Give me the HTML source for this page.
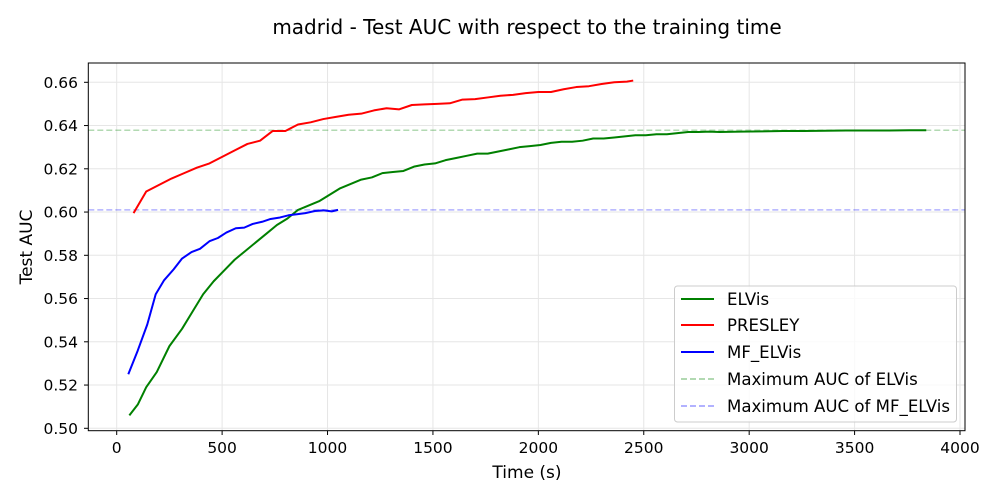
<!DOCTYPE html>
<html><head><meta charset="utf-8">
<style>
body{margin:0;background:#fff;}
svg{display:block;font-family:"DejaVu Sans","Liberation Sans",sans-serif;}
</style></head>
<body>
<svg id="chart" width="1000" height="500">
<text x="527" y="34" text-anchor="middle" font-size="20">madrid - Test AUC with respect to the training time</text>
<g id="grid"></g>
<g id="plot"></g>
<rect x="88.3" y="63" width="876.7" height="367.7" fill="none" stroke="#000" stroke-width="1"/>
<g id="axes"></g>
<text x="527" y="478" text-anchor="middle" font-size="17">Time (s)</text>
<text transform="translate(32,247) rotate(-90)" text-anchor="middle" font-size="17">Test AUC</text>
<g>
<rect x="674.5" y="286" width="282" height="136" rx="3" fill="#fff" fill-opacity="0.8" stroke="#ccc"/>
<g><line x1="681" y1="299" x2="714" y2="299" stroke="green" stroke-width="2"/><text x="727" y="305" font-size="16.6">ELVis</text></g>
<g><line x1="681" y1="325" x2="714" y2="325" stroke="red" stroke-width="2"/><text x="727" y="331" font-size="16.6">PRESLEY</text></g>
<g><line x1="681" y1="352" x2="714" y2="352" stroke="blue" stroke-width="2"/><text x="727" y="358" font-size="16.6">MF_ELVis</text></g>
<g><line x1="681" y1="379" x2="714" y2="379" stroke="green" stroke-opacity="0.3" stroke-width="2" stroke-dasharray="6,3"/><text x="727" y="385" font-size="16.6">Maximum AUC of ELVis</text></g>
<g><line x1="681" y1="406" x2="714" y2="406" stroke="blue" stroke-opacity="0.3" stroke-width="2" stroke-dasharray="6,3"/><text x="727" y="412" font-size="16.6">Maximum AUC of MF_ELVis</text></g>
</g>
</svg>
<script>
const xTicks=[0,500,1000,1500,2000,2500,3000,3500,4000];
const yTicks=[0.50,0.52,0.54,0.56,0.58,0.60,0.62,0.64,0.66];
const elvisT=[60,100,140,190,250,310,360,410,460,510,560,610,660,710,760,810,860,910,960,1010,1060,1110,1160,1210,1260,1310,1360,1410,1460,1510,1560,1610,1660,1710,1760,1810,1860,1910,1960,2010,2060,2110,2160,2210,2260,2310,2360,2410,2460,2510,2560,2610,2660,2710,2760,2810,2860,2960,3060,3160,3260,3360,3460,3560,3660,3760,3840];
const elvisAUC=[0.506,0.511,0.519,0.526,0.538,0.546,0.554,0.562,0.568,0.573,0.578,0.582,0.586,0.590,0.594,0.597,0.601,0.603,0.605,0.608,0.611,0.613,0.615,0.616,0.618,0.6185,0.619,0.621,0.622,0.6225,0.624,0.625,0.626,0.627,0.627,0.628,0.629,0.630,0.6305,0.631,0.632,0.6325,0.6325,0.633,0.634,0.634,0.6345,0.635,0.6355,0.6355,0.636,0.636,0.6365,0.637,0.637,0.6372,0.637,0.6372,0.6373,0.6375,0.6375,0.6376,0.6377,0.6377,0.6377,0.6378,0.6378];
const presleyT=[80,140,200,260,320,380,440,500,560,620,680,740,800,860,920,980,1040,1100,1160,1220,1280,1340,1400,1460,1520,1580,1640,1700,1760,1820,1880,1940,2000,2060,2120,2180,2240,2300,2360,2420,2450];
const presleyAUC=[0.5995,0.6095,0.6125,0.6155,0.618,0.6205,0.6225,0.6255,0.6285,0.6315,0.633,0.6375,0.6375,0.6405,0.6415,0.643,0.644,0.645,0.6455,0.647,0.648,0.6475,0.6495,0.6498,0.650,0.6503,0.652,0.6522,0.653,0.6538,0.6542,0.655,0.6555,0.6555,0.6568,0.6578,0.6582,0.6592,0.660,0.6603,0.6608];
const mfT=[55,100,145,185,225,270,310,355,395,440,480,520,565,605,645,690,730,775,815,855,895,940,980,1020,1050];
const mfAUC=[0.525,0.536,0.548,0.562,0.5685,0.5735,0.5785,0.5815,0.583,0.5865,0.588,0.5905,0.5925,0.5928,0.5945,0.5955,0.5968,0.5975,0.5985,0.599,0.5995,0.6005,0.6008,0.6003,0.601];
const maxAUC=[0.6378,0.601];
const NS='http://www.w3.org/2000/svg';
const X=t=>116.7+t*(960-116.7)/4000;
const Y=v=>428.3-(v-0.50)*(428.3-82.3)/0.16;
function mk(tag,attrs,parent){const e=document.createElementNS(NS,tag);for(const k in attrs)e.setAttribute(k,attrs[k]);document.getElementById(parent).appendChild(e);return e;}
xTicks.forEach(t=>{
  const g=mk('line',{x1:X(t),x2:X(t),y1:63,y2:430.7,stroke:'#e6e6e6','stroke-width':1},'grid');
  
  
  mk('line',{x1:X(t),x2:X(t),y1:430.7,y2:435,stroke:'#000'},'axes');
  const l=mk('text',{x:X(t),y:453,'text-anchor':'middle','font-size':15.5},'axes');
  l.textContent=t;
  
  
});
yTicks.forEach(v=>{
  const g=mk('line',{x1:88.3,x2:965,y1:Y(v),y2:Y(v),stroke:'#e6e6e6','stroke-width':1},'grid');
  
  
  mk('line',{x1:84,x2:88.3,y1:Y(v),y2:Y(v),stroke:'#000'},'axes');
  const l=mk('text',{x:78,y:Y(v)+5.5,'text-anchor':'end','font-size':15.5},'axes');
  l.textContent=v.toFixed(2);
  
  
});
const h1=mk('line',{x1:88.3,x2:965,y1:Y(maxAUC[0]),y2:Y(maxAUC[0]),stroke:'green','stroke-opacity':0.3,'stroke-width':1.5,'stroke-dasharray':'6,3'},'plot');


const h2=mk('line',{x1:88.3,x2:965,y1:Y(maxAUC[1]),y2:Y(maxAUC[1]),stroke:'blue','stroke-opacity':0.3,'stroke-width':1.5,'stroke-dasharray':'6,3'},'plot');


function series(ts,vs,color,name){
  const p=mk('polyline',{points:ts.map((t,i)=>X(t)+','+Y(vs[i])).join(' '),fill:'none',stroke:color,'stroke-width':2,'stroke-linejoin':'round'},'plot');
  
  
}
series(elvisT,elvisAUC,'green','elvis-line');
series(presleyT,presleyAUC,'red','presley-line');
series(mfT,mfAUC,'blue','mf-elvis-line');
</script>
</body></html>
